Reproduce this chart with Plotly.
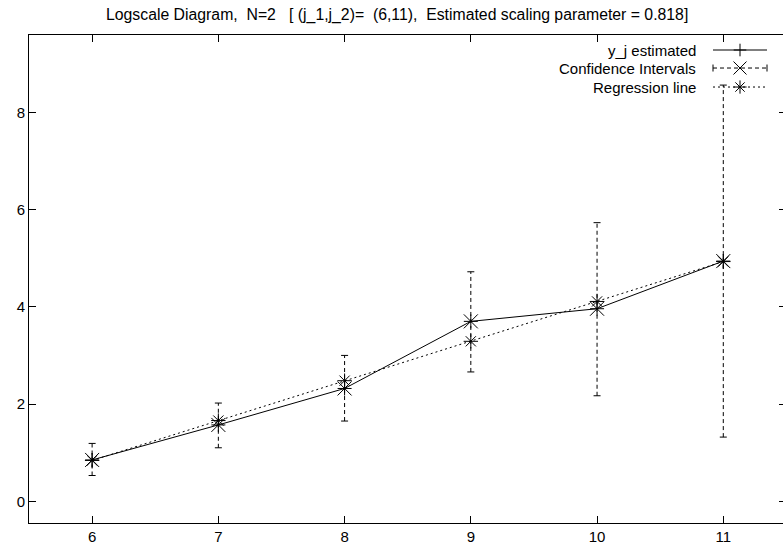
import plotly.graph_objects as go

# ---- data ----
octaves = [6, 7, 8, 9, 10, 11]
y_est = [0.85, 1.57, 2.32, 3.70, 3.96, 4.94]
ci_low = [0.53, 1.10, 1.65, 2.66, 2.17, 1.32]
ci_high = [1.19, 2.02, 3.00, 4.72, 5.73, 8.56]
y_reg = [0.84, 1.66, 2.48, 3.29, 4.11, 4.93]

x_ticks = [6, 7, 8, 9, 10, 11]
y_ticks = [0, 2, 4, 6, 8]

legend_labels = ["y_j estimated", "Confidence Intervals", "Regression line"]
NB = "\u00a0"
title_text = ("Logscale Diagram," + NB * 2 + "N=2" + NB * 3 + "[ (j_1,j_2)=" + NB * 2 +
              "(6,11)," + NB * 2 + "Estimated scaling parameter = 0.818]")

FONT = "Liberation Sans, Arial, sans-serif"
BLACK = "#000000"

fig = go.Figure()

# error bars (dashed vertical segments) built from the data
ex, ey = [], []
for xv, lo, hi in zip(octaves, ci_low, ci_high):
    ex += [xv, xv, None]
    ey += [lo, hi, None]
fig.add_trace(go.Scatter(x=ex, y=ey, mode="lines",
                         line=dict(color=BLACK, width=1, dash="4px,3px"),
                         hoverinfo="skip", showlegend=False))
# caps
fig.add_trace(go.Scatter(x=octaves + octaves, y=ci_low + ci_high, mode="markers",
                         marker=dict(symbol="line-ew", size=5,
                                     line=dict(color=BLACK, width=1)),
                         hoverinfo="skip", showlegend=False))
# CI marker (X) at estimate
fig.add_trace(go.Scatter(x=octaves, y=y_est, mode="markers",
                         marker=dict(symbol="x-thin", size=14,
                                     line=dict(color=BLACK, width=1)),
                         showlegend=False))
# estimated line with + markers
fig.add_trace(go.Scatter(x=octaves, y=y_est, mode="lines+markers",
                         line=dict(color=BLACK, width=1),
                         marker=dict(symbol="cross-thin", size=10,
                                     line=dict(color=BLACK, width=1)),
                         showlegend=False))
# regression line
fig.add_trace(go.Scatter(x=octaves, y=y_reg, mode="lines+markers",
                         line=dict(color=BLACK, width=1, dash="2px,3px"),
                         marker=dict(symbol="asterisk", size=12,
                                     line=dict(color=BLACK, width=1)),
                         showlegend=False))

# ---- custom legend (text right-aligned, sample to the right), pixel frame ----
L = dict(text_x=698, x0=713, x1=767, xm=740, rows=[50, 68, 87])
samples = [
    dict(dash="solid", sym="cross-thin", size=9),
    dict(dash="4px,3px", sym="x-thin", size=13),
    dict(dash="2px,3px", sym="asterisk", size=11),
]
for lab, yrow, s in zip(legend_labels, L["rows"], samples):
    fig.add_trace(go.Scatter(x=[L["x0"], L["x1"]], y=[yrow, yrow], mode="lines",
                             line=dict(color=BLACK, width=1, dash=s["dash"]),
                             xaxis="x3", yaxis="y3", hoverinfo="skip", showlegend=False))
    fig.add_trace(go.Scatter(x=[L["xm"]], y=[yrow], mode="markers",
                             marker=dict(symbol=s["sym"], size=s["size"],
                                         line=dict(color=BLACK, width=1)),
                             xaxis="x3", yaxis="y3", hoverinfo="skip", showlegend=False))
    fig.add_annotation(x=L["text_x"], y=yrow, xref="x3", yref="y3", text=lab,
                       showarrow=False, xanchor="right", yanchor="middle",
                       font=dict(family=FONT, size=15, color=BLACK))
# end caps for CI legend sample
fig.add_trace(go.Scatter(x=[L["x0"], L["x1"]], y=[L["rows"][1]] * 2, mode="markers",
                         marker=dict(symbol="line-ns", size=5, line=dict(color=BLACK, width=1)),
                         xaxis="x3", yaxis="y3", hoverinfo="skip", showlegend=False))

W, H = 783, 554
fig.update_layout(
    width=W, height=H,
    margin=dict(l=29, r=0, t=35, b=31, pad=0),
    paper_bgcolor="white", plot_bgcolor="white",
    font=dict(family=FONT, size=15, color=BLACK),
    title=dict(text=title_text, x=106 / W, xanchor="left",
               y=1 - 14 / H, yanchor="middle",
               font=dict(family=FONT, size=15.8, color=BLACK)),
    xaxis=dict(range=[5.5, 11.473], tickvals=x_ticks, ticks="inside", ticklen=7,
               tickcolor=BLACK, showline=True, linecolor=BLACK, linewidth=1,
               mirror="ticks", showgrid=False, zeroline=False,
               tickfont=dict(family=FONT, size=15)),
    yaxis=dict(range=[-0.447, 9.59], tickvals=y_ticks, ticks="inside", ticklen=7,
               tickcolor=BLACK, showline=True, linecolor=BLACK, linewidth=1,
               mirror=False, showgrid=False, zeroline=False,
               tickfont=dict(family=FONT, size=15)),
    yaxis2=dict(range=[-0.447, 9.59], tickvals=y_ticks, ticks="inside", ticklen=4,
                tickcolor=BLACK, overlaying="y", side="right", showline=False,
                showticklabels=False, showgrid=False, zeroline=False),
    xaxis3=dict(range=[29, 783], overlaying="x", visible=False, anchor="y3"),
    yaxis3=dict(range=[522.7, 35], overlaying="y", visible=False, anchor="x3"),
)
# invisible trace to activate yaxis2 ticks
fig.add_trace(go.Scatter(x=[octaves[0]], y=[y_est[0]], yaxis="y2", mode="markers",
                         marker=dict(opacity=0), hoverinfo="skip", showlegend=False))

fig.write_html("out.html", config={"displayModeBar": False},
               post_script="document.body.style.margin='0';document.body.style.overflow='hidden';")
